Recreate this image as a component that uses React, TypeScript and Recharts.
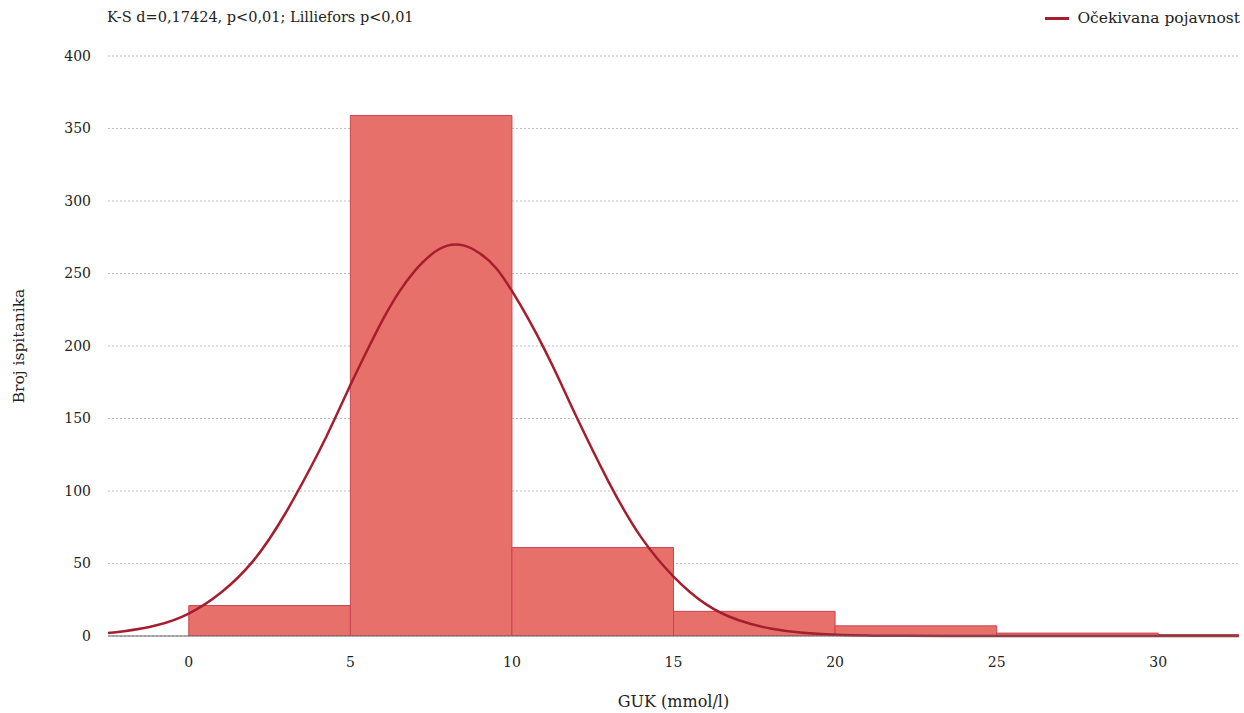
import { ComposedChart, Line, XAxis, YAxis, CartesianGrid, ReferenceArea } from 'recharts'

// histogram bins (GUK, mmol/l)
const binStarts = [0, 5, 10, 15, 20, 25, 30]
const binEnds = [5, 10, 15, 20, 25, 30, 35]
const binCounts = [21, 359, 61, 17, 7, 2, 1]

// expected frequency curve
const curveX = [-2.5, -2, -1, 0, 1, 2, 3, 4, 4.5, 5, 5.5, 6, 6.5, 7, 7.5, 8, 8.5, 9, 9.5, 10, 10.5, 11, 11.5, 12, 13, 14, 15, 16, 17, 18, 19, 20, 21, 22, 24, 26, 28, 30, 32, 32.5]
const curveY = [2.1, 3.3, 7.4, 15.5, 30, 52, 85, 126, 149, 173, 196, 218, 237, 252, 263, 269.2, 269.4, 264, 254, 238, 219, 198, 175, 151, 106, 68, 41, 22, 11, 5.2, 2.2, 0.9, 0.3, 0.1, 0, 0, 0, 0, 0, 0]

const xTicks = [0, 5, 10, 15, 20, 25, 30]
const yTicks = [0, 50, 100, 150, 200, 250, 300, 350, 400]

const FONT = '"DejaVu Serif", serif'
const TEXT = '#222'
const BAR_FILL = '#e8706a'
const BAR_STROKE = '#c94452'
const LINE = '#a61e2e'

const curve = curveX.map((x, i) => ({ x, y: curveY[i] }))

export default function App() {
  return (
    <div style={{ position: 'absolute', left: 0, top: 0, width: 1244, height: 713, fontFamily: FONT, color: TEXT }}>
      <div style={{ position: 'absolute', left: 107, top: 9, fontSize: 14.5 }}>
        K-S d=0,17424, p&lt;0,01; Lilliefors p&lt;0,01
      </div>
      <div style={{ position: 'absolute', right: 4, top: 9, fontSize: 15.5, display: 'flex', alignItems: 'center' }}>
        <span style={{ display: 'inline-block', width: 24, height: 3, background: LINE, marginRight: 8 }} />
        Očekivana pojavnost
      </div>
      <ComposedChart width={1244} height={713} data={curve} margin={{ top: 56, right: 5, left: 0, bottom: 0 }}>
        <CartesianGrid vertical={false} strokeDasharray="2 2" stroke="#bdbdbd" />
        <XAxis
          dataKey="x"
          type="number"
          domain={[-2.5, 32.5]}
          ticks={xTicks}
          allowDataOverflow
          height={77}
          tickLine={false}
          tickMargin={15}
          axisLine={{ stroke: '#666' }}
          tick={{ fill: TEXT, fontSize: 14, fontFamily: FONT }}
          label={{ value: 'GUK (mmol/l)', position: 'insideBottom', offset: 6, fill: TEXT, fontSize: 16, fontFamily: FONT }}
        />
        <YAxis
          type="number"
          domain={[0, 400]}
          ticks={yTicks}
          width={108}
          axisLine={false}
          tickLine={false}
          tickMargin={11}
          tick={{ fill: TEXT, fontSize: 14, fontFamily: FONT }}
          label={{ value: 'Broj ispitanika', angle: -90, position: 'insideLeft', offset: 18, style: { textAnchor: 'middle' }, fill: TEXT, fontSize: 15.5, fontFamily: FONT }}
        />
        {binCounts.map((c, i) => (
          <ReferenceArea
            key={i}
            x1={binStarts[i]}
            x2={binEnds[i]}
            y1={0}
            y2={c}
            ifOverflow="hidden"
            fill={BAR_FILL}
            fillOpacity={1}
            stroke={BAR_STROKE}
            strokeWidth={1}
          />
        ))}
        <Line
          dataKey="y"
          type="natural"
          stroke={LINE}
          strokeWidth={2.5}
          dot={false}
          activeDot={false}
          isAnimationActive={false}
          legendType="none"
        />
      </ComposedChart>
    </div>
  )
}
